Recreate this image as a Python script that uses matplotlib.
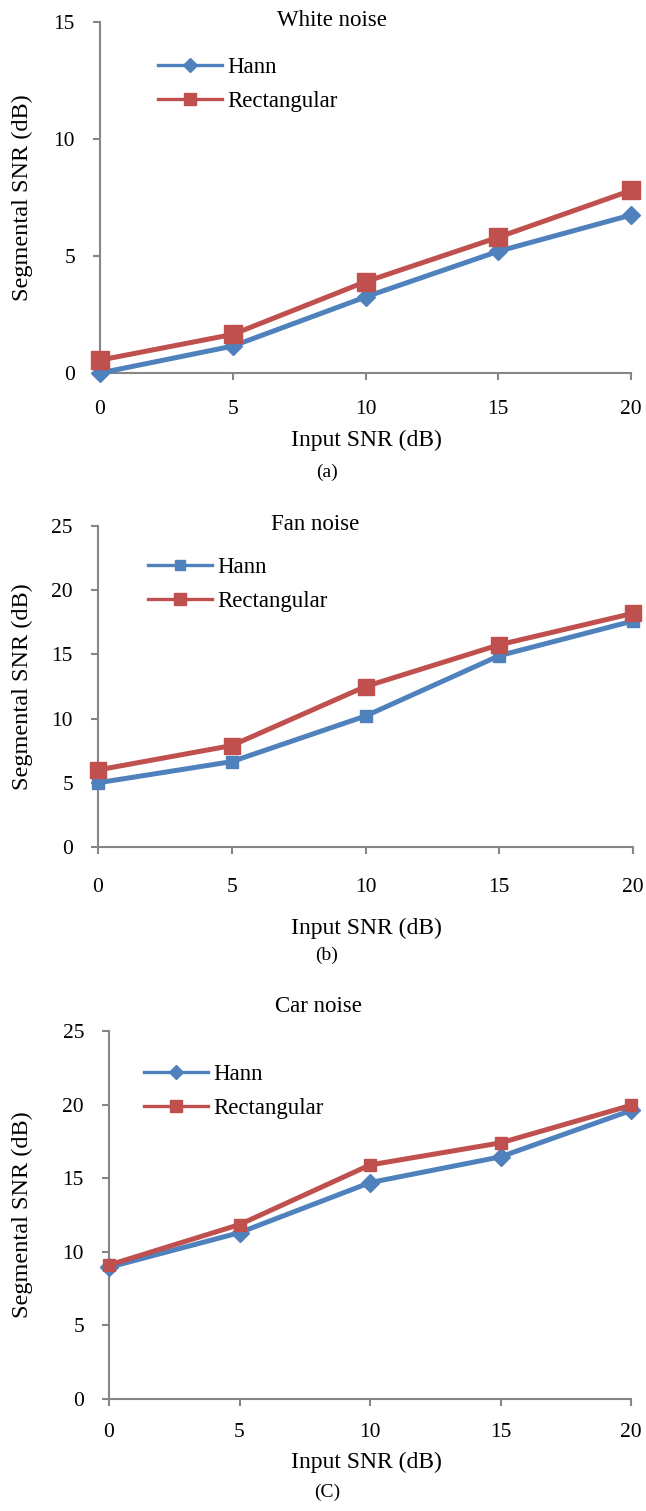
import matplotlib; matplotlib.use('Agg')
import numpy as np
from matplotlib import pyplot as plt
from matplotlib.lines import Line2D

plt.rcParams.update({
    'font.family': ['Liberation Serif', 'DejaVu Serif'],
    'font.size': 15,
})

BLUE = '#4F81BD'
RED = '#C0504D'
GRAY = '#868686'

input_snr = [0, 5, 10, 15, 20]

white_hann = [0.0, 1.15, 3.25, 5.2, 6.75]
white_rect = [0.55, 1.65, 3.9, 5.8, 7.8]

fan_hann = [5.0, 6.65, 10.2, 14.9, 17.6]
fan_rect = [6.0, 7.9, 12.5, 15.75, 18.2]

car_hann = [8.95, 11.3, 14.7, 16.45, 19.6]
car_rect = [9.1, 11.85, 15.9, 17.4, 19.95]

W, H = 646, 1511
fig = plt.figure(figsize=(W / 100, H / 100), dpi=100)


def fx(x):
    return x / W


def fy(y):
    return 1 - y / H


panels = [
    dict(title='White noise', hann=white_hann, rect=white_rect, hm='D', hs=9, rs=13,
         ymax=15, box=(100, 22, 631, 373), ty=20, tx=332, cap='(a)', tick_y=410,
         xl_y=440, cap_y=472, leg=(158, 57)),
    dict(title='Fan noise', hann=fan_hann, rect=fan_rect, hm='s', hs=9, rs=12,
         ymax=25, box=(98, 526, 633, 847), ty=524, tx=315, cap='(b)', tick_y=888,
         xl_y=928, cap_y=955, leg=(148, 557)),
    dict(title='Car noise', hann=car_hann, rect=car_rect, hm='D', hs=9, rs=9,
         ymax=25, box=(109, 1031, 631, 1399), ty=1006, tx=318, cap='(C)', tick_y=1433,
         xl_y=1462, cap_y=1492, leg=(144, 1064)),
]

for p in panels:
    x0, y0, x1, y1 = p['box']
    ax = fig.add_axes([fx(x0), fy(y1), fx(x1 - x0), (y1 - y0) / H])
    ax.plot(input_snr, p['hann'], color=BLUE, lw=3.6, marker=p['hm'],
            ms=p['hs'], clip_on=False, zorder=3)
    ax.plot(input_snr, p['rect'], color=RED, lw=3.6, marker='s',
            ms=p['rs'], clip_on=False, zorder=4)
    ax.set_xlim(0, 20)
    ax.set_ylim(0, p['ymax'])
    ax.set_xticks(input_snr)
    ax.set_yticks(np.arange(0, p['ymax'] + 1, 5))
    for s in ['top', 'right']:
        ax.spines[s].set_visible(False)
    for s in ['left', 'bottom']:
        ax.spines[s].set_color(GRAY)
        ax.spines[s].set_linewidth(1.5)
    ax.tick_params(axis='both', colors=GRAY, labelcolor='black', length=5,
                   width=1.5, direction='out', labelsize=15.5)
    ax.tick_params(axis='y', pad=13)
    ax.tick_params(axis='x', pad=(p['tick_y'] - y1) * 0.72 - 12)

    fig.text(fx(p['tx']), fy(p['ty']), p['title'], ha='center', va='center',
             fontsize=16.5)
    fig.text(fx(366), fy(p['xl_y']), 'Input SNR (dB)', ha='center',
             va='center', fontsize=17)
    fig.text(fx(327), fy(p['cap_y']), p['cap'], ha='center', va='center',
             fontsize=14)
    fig.text(fx(22), fy((y0 + y1) / 2), 'Segmental SNR (dB)', rotation=90,
             ha='center', va='center', fontsize=17.5)

    handles = [
        Line2D([], [], color=BLUE, lw=2.4, marker=p['hm'], ms=7),
        Line2D([], [], color=RED, lw=2.4, marker='s', ms=8.5),
    ]
    lx, ly = p['leg']
    ax.legend(handles, ['Hann', 'Rectangular'], loc='upper left',
              bbox_to_anchor=(fx(lx), fy(ly)),
              bbox_transform=fig.transFigure, frameon=False, borderpad=0,
              borderaxespad=0, handlelength=2.8, handletextpad=0.22,
              labelspacing=0.57, fontsize=16.5)

fig.savefig('out.png', dpi=100)
